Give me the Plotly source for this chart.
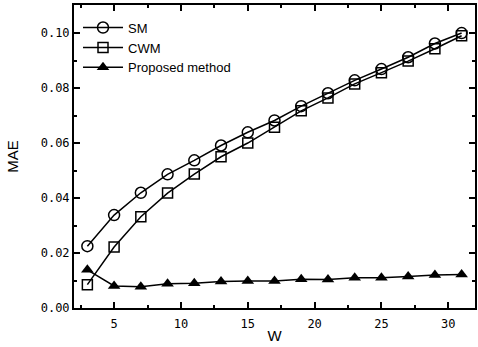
import plotly.graph_objects as go

W = [3, 5, 7, 9, 11, 13, 15, 17, 19, 21, 23, 25, 27, 29, 31]
sm = [0.0225, 0.0338, 0.0419, 0.0486, 0.0537, 0.0591, 0.0639, 0.0682, 0.0734, 0.0781, 0.0828, 0.0869, 0.0912, 0.0962, 0.1000]
cwm = [0.0085, 0.0222, 0.0332, 0.0418, 0.0487, 0.0550, 0.0600, 0.0657, 0.0717, 0.0764, 0.0815, 0.0856, 0.0898, 0.0943, 0.0990]
proposed = [0.0139, 0.0080, 0.0077, 0.0088, 0.0090, 0.0096, 0.0098, 0.0098, 0.0105, 0.0104, 0.0110, 0.0110, 0.0115, 0.0120, 0.0122]

fig = go.Figure()
fig.add_trace(go.Scatter(x=W, y=sm, name="SM", mode="lines+markers",
                         line=dict(color="black", width=1.5),
                         marker=dict(symbol="circle-open", size=11, color="black", line=dict(width=1.5))))
fig.add_trace(go.Scatter(x=W, y=cwm, name="CWM", mode="lines+markers",
                         line=dict(color="black", width=1.5),
                         marker=dict(symbol="square-open", size=10, color="black", line=dict(width=1.5))))
fig.add_trace(go.Scatter(x=W, y=proposed, name="Proposed method", mode="lines+markers",
                         line=dict(color="black", width=1.5),
                         marker=dict(symbol="triangle-up", size=11, color="black")))

fig.update_layout(
    width=478, height=347,
    margin=dict(l=74, r=3, t=5, b=39, autoexpand=False),
    paper_bgcolor="white", plot_bgcolor="white",
    font=dict(family="Liberation Sans, Arial, sans-serif", color="black", size=12),
    showlegend=True,
    legend=dict(x=0.01, y=0.975, xanchor="left", yanchor="top", bgcolor="rgba(0,0,0,0)",
                font=dict(size=13), tracegroupgap=0, itemwidth=40),
    xaxis=dict(range=[2, 32], tickvals=[5, 10, 15, 20, 25, 30], ticks="inside", ticklen=6,
               tickwidth=1.5, tickcolor="black", showline=True, linecolor="black", linewidth=2,
               mirror="ticks", showgrid=False, zeroline=False, automargin=False,
               ticklabelstandoff=4,
               minor=dict(dtick=2.5, tick0=0, ticks="inside", ticklen=3, tickcolor="black"),
               title=dict(text="W", font=dict(size=15), standoff=0),
               tickfont=dict(family="DejaVu Sans Mono, monospace", size=12)),
    yaxis=dict(range=[0, 0.1102], tickvals=[0, 0.02, 0.04, 0.06, 0.08, 0.10], tickformat=".2f",
               ticks="inside", ticklen=6, tickwidth=1.5, tickcolor="black", showline=True,
               linecolor="black", linewidth=2, mirror="ticks", showgrid=False, zeroline=False,
               automargin=False,
               minor=dict(dtick=0.01, tick0=0, ticks="inside", ticklen=3, tickcolor="black"),
               title=dict(text="MAE", font=dict(size=15), standoff=18),
               tickfont=dict(family="DejaVu Sans Mono, monospace", size=12)),
)

fig.write_html("out.html", config={"displayModeBar": False},
               post_script="document.body.style.margin='0';document.body.style.overflow='hidden';")
